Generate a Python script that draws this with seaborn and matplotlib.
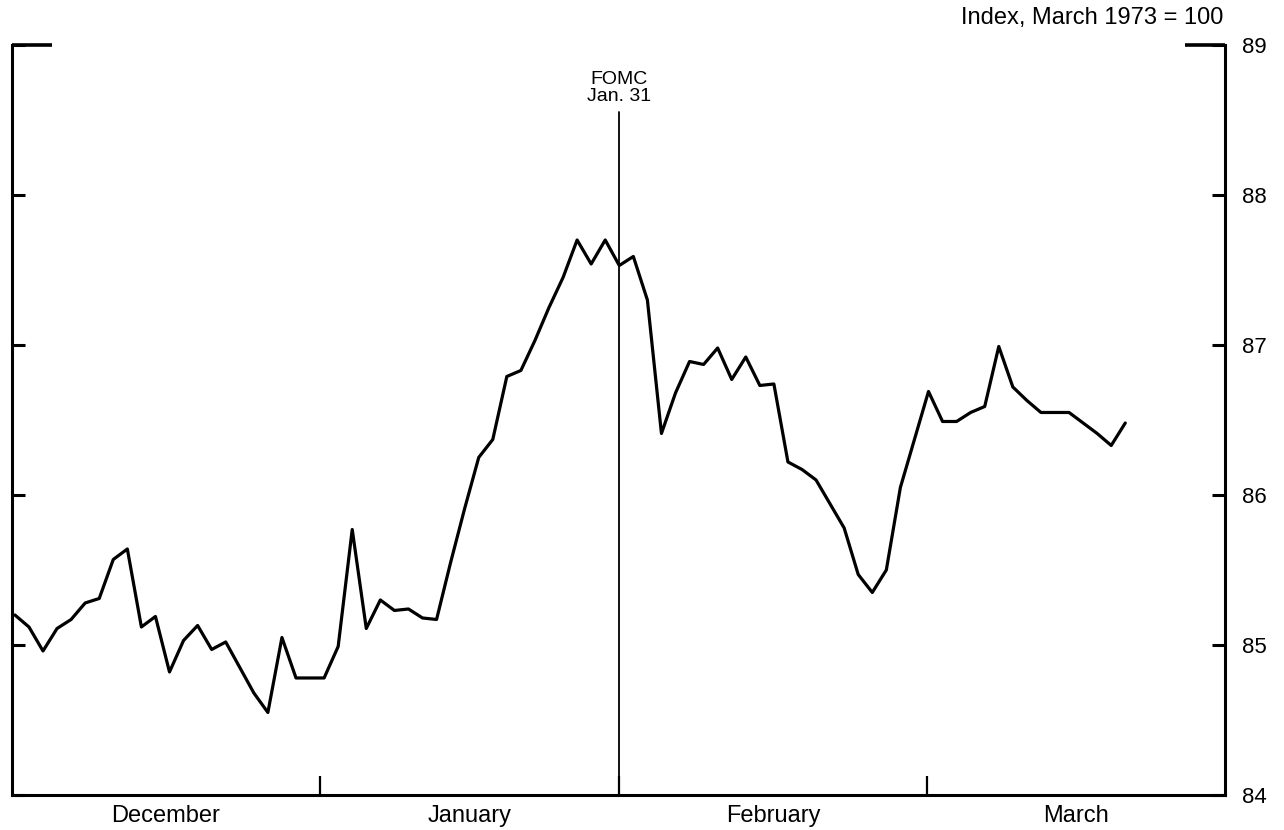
import matplotlib
matplotlib.use("Agg")
import matplotlib.pyplot as plt
import numpy as np
import pandas as pd
import seaborn as sns

# Daily index values, Dec through late March (Index, March 1973 = 100)
index_values = [
    85.20, 85.12, 84.96, 85.11, 85.17, 85.28, 85.31, 85.57, 85.64, 85.12,
    85.19, 84.82, 85.03, 85.13, 84.97, 85.02, 84.85, 84.68, 84.55, 85.05,
    84.78, 84.78, 84.78, 84.99, 85.77, 85.11, 85.30, 85.23, 85.24, 85.18,
    85.17, 85.55, 85.91, 86.25, 86.37, 86.79, 86.83, 87.03, 87.25, 87.45,
    87.70, 87.54, 87.70, 87.53, 87.59, 87.30, 86.41, 86.68, 86.89, 86.87,
    86.98, 86.77, 86.92, 86.73, 86.74, 86.22, 86.17, 86.10, 85.94, 85.78,
    85.47, 85.35, 85.50, 86.05, 86.37, 86.69, 86.49, 86.49, 86.55, 86.59,
    86.99, 86.72, 86.63, 86.55, 86.55, 86.55, 86.48, 86.41, 86.33, 86.48,
]

month_labels = ["December", "January", "February", "March"]
month_edges = [21.7, 43.0, 64.9]          # month boundaries, in trading-day units
month_centers = [10.75, 32.35, 53.95, 75.5]
fomc_day = 43.0
y_ticks = [84, 85, 86, 87, 88, 89]

sns.set_style("white")
plt.rcParams["font.family"] = ["Liberation Sans", "DejaVu Sans"]
plt.rcParams["text.color"] = "black"

df = pd.DataFrame({"day": np.arange(len(index_values)), "index": index_values})

fig = plt.figure(figsize=(12.84, 8.3), dpi=100)
ax = fig.add_axes([0.0093, 0.0422, 0.9448, 0.9036])

sns.lineplot(data=df, x="day", y="index", color="black", linewidth=2.3, ax=ax)

x0, x1 = -0.21, 86.1
ax.set_xlim(x0, x1)
ax.set_ylim(84, 89)

# spines: left, right, bottom; top only as short corner brackets
ax.spines["top"].set_visible(False)
for side in ["left", "right", "bottom"]:
    ax.spines[side].set_visible(True)
    ax.spines[side].set_linewidth(2.2)
    ax.spines[side].set_color("black")
ax.plot([x0, x0 + 2.85], [89, 89], color="black", lw=2.6, clip_on=False,
        solid_capstyle="butt")
ax.plot([x1 - 2.85, x1], [89, 89], color="black", lw=2.6, clip_on=False,
        solid_capstyle="butt")

# FOMC marker
ax.axvline(fomc_day, ymin=0, ymax=(88.55 - 84) / 5, color="black", lw=1.3)
ax.text(fomc_day, 88.6, "FOMC\nJan. 31", ha="center", va="bottom",
        fontsize=14, linespacing=1.0, color="black")

# y axis: labels on the right, inward ticks on both sides
ax.set_yticks(y_ticks)
ax.set_yticklabels([str(v) for v in y_ticks])
ax.tick_params(axis="y", left=True, right=True, labelleft=False,
               labelright=True, direction="in", length=9.5, width=2.2,
               pad=12, labelsize=16, colors="black")

# x axis: month boundaries as small ticks, names centered in each month
ax.set_xticks(month_edges)
ax.set_xticklabels([])
ax.set_xticks(month_centers, minor=True)
ax.set_xticklabels(month_labels, minor=True)
ax.tick_params(axis="x", which="major", bottom=True, direction="in",
               length=14, width=1.6, colors="black")
ax.tick_params(axis="x", which="minor", bottom=True, length=0, pad=7,
               labelsize=17, labelcolor="black")

ax.set_xlabel("")
ax.set_ylabel("")
ax.grid(False)

fig.text(0.953, 0.978, "Index, March 1973 = 100", ha="right", va="center",
         fontsize=17, color="black")

fig.savefig("out.png", dpi=100, facecolor="white")
